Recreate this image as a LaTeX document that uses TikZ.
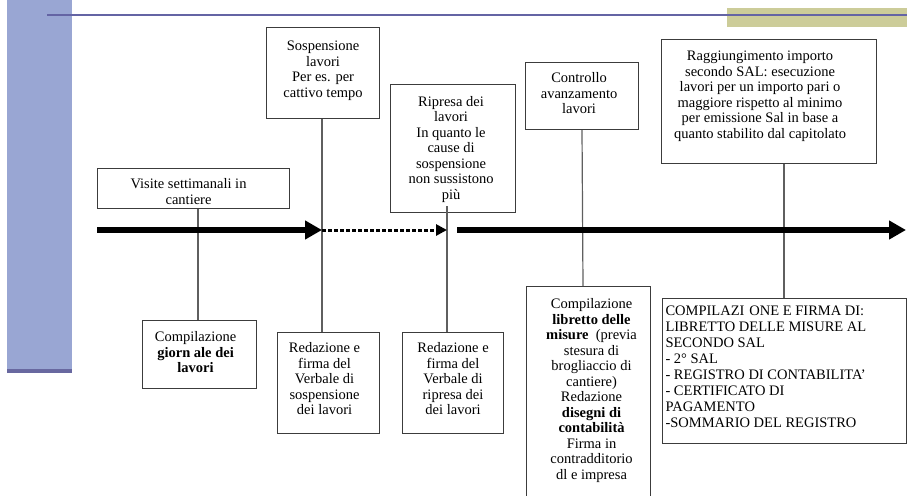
\documentclass[tikz,border=0pt]{standalone}
\usepackage{fontspec}
\setmainfont{Liberation Serif}
\usetikzlibrary{arrows.meta}

\definecolor{barblue}{RGB}{153,166,211}
\definecolor{bardark}{RGB}{104,104,160}
\definecolor{rulec}{RGB}{100,100,164}
\definecolor{olivebar}{RGB}{204,204,153}
\definecolor{framec}{RGB}{60,60,60}
\definecolor{linkc}{RGB}{95,95,95}

% fixed-size text cell: width, height, top padding, content
\newcommand{\cellbox}[4]{\parbox[c][#2][t]{#1}{\vspace*{#3}\fontsize{14.5}{15.5}\selectfont #4}}
% right-hand blank margin inside a cell
\newcommand{\rpad}[1]{\kern#1\relax}

\tikzset{
  tbox/.style={draw=framec, line width=1.1pt, inner sep=0pt, anchor=north west},
  link/.style={draw=linkc, line width=1.2pt},
  mainline/.style={line width=5.5pt, black, -{Triangle[length=17pt,width=18pt]}},
  pauseline/.style={line width=3pt, black, dash pattern=on 4pt off 2pt, -{Triangle[length=11pt,width=11pt]}}
}

\begin{document}
\begin{tikzpicture}[x=1pt,y=-1pt]
\useasboundingbox (0,0) rectangle (907,495);

% page decoration
\fill[barblue] (7,0) rectangle (72,373);
\fill[bardark] (7,369) rectangle (72,373);
\fill[olivebar] (727,8) rectangle (907,27);
\draw[rulec, line width=2pt] (47,15.5) -- (907,15.5);

% events above the timeline
\node[tbox] (visite) at (97,168) {\cellbox{182pt}{40pt}{9.9pt}{\centering Visite settimanali in\\cantiere}\rpad{10pt}};
\node[tbox] (sosp) at (266,27) {\cellbox{113pt}{91pt}{13.4pt}{\centering Sospensione\\lavori\\Per es. per\\cattivo tempo}};
\node[tbox] (ripresa) at (390,84) {\cellbox{121pt}{128pt}{11.4pt}{\centering Ripresa dei\\lavori\\In quanto le\\cause di\\sospensione\\non sussistono\\più}\rpad{4pt}};
\node[tbox] (controllo) at (525,62) {\cellbox{107pt}{67pt}{9.9pt}{\centering Controllo\\avanzamento\\lavori}\rpad{6pt}};
\node[tbox] (ragg) at (661,39) {\cellbox{197pt}{124pt}{11.4pt}{\centering Raggiungimento importo\\secondo SAL: esecuzione\\lavori per un importo pari o\\maggiore rispetto al minimo\\per emissione Sal in base a\\quanto stabilito dal capitolato}\rpad{18pt}};

% documents below the timeline
\node[tbox] (giornale) at (142,320) {\cellbox{106pt}{68pt}{10.9pt}{\centering Compilazione\\\textbf{giorn ale dei}\\\textbf{lavori}}\rpad{8pt}};
\node[tbox] (verbsosp) at (277,332) {\cellbox{94pt}{101pt}{9.9pt}{\centering Redazione e\\firma del\\Verbale di\\sospensione\\dei lavori}\rpad{8pt}};
\node[tbox] (verbrip) at (402,332) {\cellbox{101pt}{101pt}{9.9pt}{\centering Redazione e\\firma del\\Verbale di\\ripresa dei\\dei lavori}};
\node[tbox] (libretto) at (526,286) {\kern6pt\cellbox{118pt}{220pt}{11.9pt}{\centering Compilazione\\\textbf{libretto delle}\\\textbf{misure}\ \ (previa\\stesura di\\brogliaccio di\\cantiere)\\Redazione\\\textbf{disegni di}\\\textbf{contabilità}\\Firma in\\contradditorio\\dl e impresa}};
\node[tbox] (firme) at (662,298) {\parbox[c][145pt][t]{244pt}{\vspace*{7.2pt}\fontsize{14.5}{16}\selectfont\raggedright\leftskip=3pt
COMPILAZI\hspace{5pt}ONE E FIRMA DI:\\LIBRETTO DELLE MISURE AL\\SECONDO SAL\\- 2° SAL\\- REGISTRO DI CONTABILITA’\\- CERTIFICATO DI\\PAGAMENTO\\-SOMMARIO DEL REGISTRO}};

% connectors from events to documents (fixed offsets from the left edges)
\draw[link] ([xshift=101pt]visite.south west) -- ([xshift=56pt]giornale.north west);
\draw[link] ([xshift=56pt]sosp.south west) -- ([xshift=45pt]verbsosp.north west);
\draw[link] ([xshift=57pt,yshift=7pt]ripresa.south west) -- ([xshift=45pt]verbrip.north west);
\draw[link] ([xshift=57pt]controllo.south west) -- ([xshift=57pt]libretto.north west);
\draw[link] ([xshift=123pt]ragg.south west) -- ([xshift=122pt]firme.north west);

% timeline
\coordinate (tstart) at (97,230);
\coordinate (tpause) at ([xshift=56pt]sosp.south west |- tstart);
\coordinate (tresume) at ([xshift=45pt]verbrip.north west |- tstart);
\coordinate (trestart) at (457,230);
\coordinate (tend) at (906,230);
\draw[mainline] (tstart) -- (tpause);
\draw[pauseline] (tpause) -- (tresume);
\draw[mainline] (trestart) -- (tend);
\end{tikzpicture}
\end{document}
